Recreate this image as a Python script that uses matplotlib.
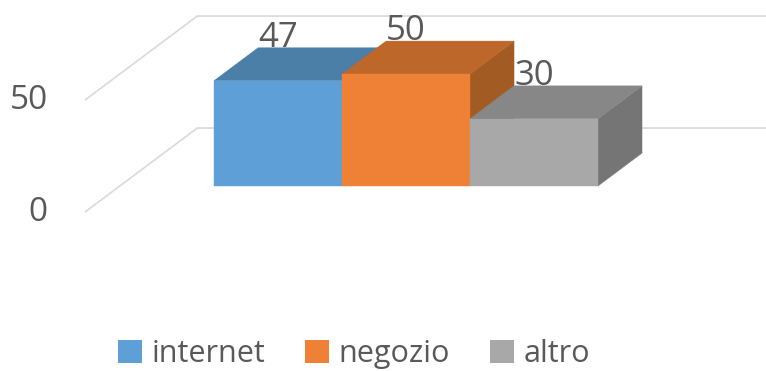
import matplotlib.pyplot as plt
from matplotlib.patches import Polygon, Patch

plt.rcParams['font.family'] = ['Open Sans', 'DejaVu Sans']

# chart data
categories = ["internet", "negozio", "altro"]
values = [47, 50, 30]
yticks = [0, 50]

front_colors = ["#5f9fd8", "#ee8136", "#a8a8a8"]
top_colors = ["#4c7fa8", "#bd672b", "#878787"]
side_colors = ["#3f6a8d", "#a35b24", "#757575"]
text_color = "#595959"
grid_color = "#d9d9d9"

# oblique projection of the depth axis (in data units)
DX = 0.344   # x shift per unit of depth
DY = 14.7    # value shift per unit of depth
floor_front = -0.79
floor_back = 1.76
wall_x = -1.236


def proj(x, y, d):
    return (x + DX * d, y + DY * d)


fig = plt.figure(figsize=(7.66, 3.71), dpi=100)
ax = fig.add_axes([0, 0, 1, 1])
ax.set_xlim(-2.172, 3.8125)
ax.set_ylim(-82.6, 83.04)
ax.axis('off')

# gridlines on side wall and back wall
for t in yticks:
    p0 = proj(wall_x, t, floor_front)
    p1 = proj(wall_x, t, floor_back)
    ax.plot([p0[0], p1[0], 3.9], [p0[1], p1[1], p1[1]],
            color=grid_color, lw=1.2, solid_capstyle='butt', zorder=1)
    ax.text(p0[0] - 0.29, p0[1], str(t), ha='right', va='center',
            fontsize=24, color=text_color)

# 3d bars
for i, (v, fc, tc, sc) in enumerate(zip(values, front_colors, top_colors, side_colors)):
    x0, x1 = i - 0.5, i + 0.5
    side = [proj(x1, 0, 0), proj(x1, 0, 1), proj(x1, v, 1), proj(x1, v, 0)]
    top = [proj(x0, v, 0), proj(x0, v, 1), proj(x1, v, 1), proj(x1, v, 0)]
    front = [(x0, 0), (x1, 0), (x1, v), (x0, v)]
    ax.add_patch(Polygon(side, closed=True, facecolor=sc, edgecolor=sc, lw=0.3, zorder=2))
    ax.add_patch(Polygon(top, closed=True, facecolor=tc, edgecolor=tc, lw=0.3, zorder=2))
    ax.add_patch(Polygon(front, closed=True, facecolor=fc, edgecolor=fc, lw=0.3, zorder=2))
    ax.text(i, v + DY + 4.5, str(v), ha='center', va='center',
            fontsize=25, color=text_color, zorder=3)

handles = [Patch(facecolor=c, edgecolor='none') for c in front_colors]
fig.legend(handles, categories, loc='center', bbox_to_anchor=(0.462, 0.045),
           ncol=3, frameon=False, fontsize=22, labelcolor=text_color,
           handlelength=0.8, handleheight=0.8, handletextpad=0.3,
           columnspacing=1.3)

fig.savefig("out.png", dpi=100)
